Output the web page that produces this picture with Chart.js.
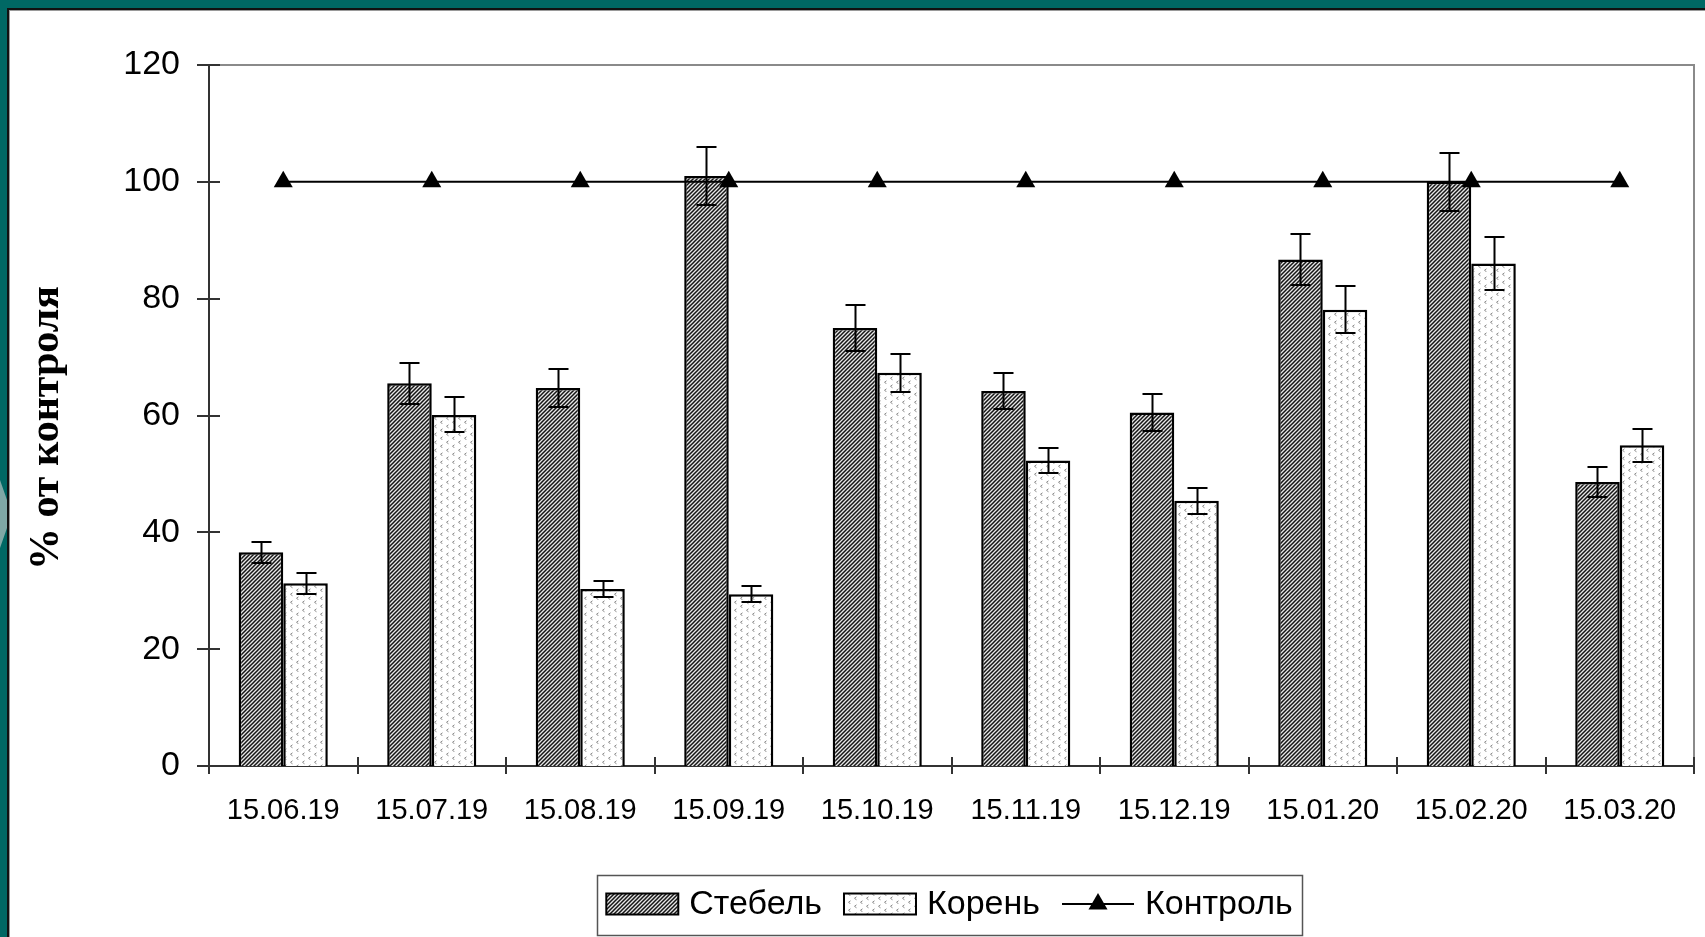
<!DOCTYPE html>
<html><head><meta charset="utf-8">
<script src="https://cdn.jsdelivr.net/npm/chart.js@4.4.1/dist/chart.umd.min.js"></script>
<style>html,body{margin:0;padding:0;background:#fff;overflow:hidden}canvas{display:block}</style>
</head><body>
<canvas id="c" width="1705" height="937"></canvas>
<script>
// ---- data ----
const categories = ['15.06.19','15.07.19','15.08.19','15.09.19','15.10.19','15.11.19','15.12.19','15.01.20','15.02.20','15.03.20'];
const stemValues = [36.6, 65.5, 64.7, 101.0, 75.0, 64.2, 60.5, 86.7, 100.0, 48.6];
const stemErrors = [1.8, 3.5, 3.2, 5.0, 4.0, 3.1, 3.1, 4.4, 5.0, 2.5];
const rootValues = [31.3, 60.1, 30.3, 29.4, 67.3, 52.3, 45.4, 78.1, 86.0, 54.9];
const rootErrors = [1.8, 3.0, 1.4, 1.4, 3.2, 2.2, 2.2, 4.0, 4.5, 2.8];
const controlValues = [100, 100, 100, 100, 100, 100, 100, 100, 100, 100];
const seriesNames = ['Стебель', 'Корень', 'Контроль'];
const yAxisTitle = '% от контроля';
const yMin = 0, yMax = 120, yStep = 20;

// ---- patterns ----
const cv = document.getElementById('c');
const ctx0 = cv.getContext('2d');
function hatchPattern() {
  const c = document.createElement('canvas'); c.width = 4; c.height = 4;
  const g = c.getContext('2d');
  g.fillStyle = '#e6e6e6'; g.fillRect(0, 0, 4, 4);
  g.strokeStyle = '#151515'; g.lineWidth = 1.5;
  g.beginPath();
  g.moveTo(-1, 5); g.lineTo(5, -1);
  g.moveTo(-1, 1); g.lineTo(1, -1);
  g.moveTo(3, 5); g.lineTo(5, 3);
  g.stroke();
  return ctx0.createPattern(c, 'repeat');
}
function dotPattern() {
  const c = document.createElement('canvas'); c.width = 12; c.height = 8;
  const g = c.getContext('2d');
  g.fillStyle = '#ffffff'; g.fillRect(0, 0, 12, 8);
  g.strokeStyle = '#8a8a8a'; g.lineWidth = 1;
  g.beginPath();
  g.moveTo(4.5, 0.8); g.lineTo(2.5, 2.3); g.lineTo(4.5, 3.8);
  g.moveTo(10.5, 4.8); g.lineTo(8.5, 6.3); g.lineTo(10.5, 7.8);
  g.stroke();
  return ctx0.createPattern(c, 'repeat');
}
const stemFill = hatchPattern();
const rootFill = dotPattern();

const framePlugin = {
  id: 'frame',
  beforeDraw(chart) {
    const ctx = chart.ctx, W = chart.width, H = chart.height;
    ctx.save();
    ctx.fillStyle = '#ffffff'; ctx.fillRect(0, 0, W, H);
    ctx.fillStyle = '#006864';
    ctx.fillRect(0, 0, 7, H);
    ctx.fillRect(0, 0, W, 8);
    ctx.fillStyle = '#7fa8a6';
    ctx.beginPath(); ctx.moveTo(0, 480); ctx.lineTo(7, 500); ctx.lineTo(7, 528); ctx.lineTo(0, 548); ctx.closePath(); ctx.fill();
    ctx.fillStyle = '#111';
    ctx.fillRect(7, 8, 2, H - 8);
    ctx.fillRect(7, 8, W - 7, 2);
    ctx.fillStyle = '#9a9a9a';
    ctx.fillRect(9, 10, 1, H - 10);
    ctx.fillRect(9, 10, W - 9, 1);
    ctx.restore();
  },
  beforeDatasetsDraw(chart) {
    const {ctx, chartArea: a, scales: {x, y}} = chart;
    ctx.save();
    ctx.strokeStyle = '#8a8a8a'; ctx.lineWidth = 2;
    ctx.beginPath();
    ctx.moveTo(a.left, a.top); ctx.lineTo(a.right, a.top); ctx.lineTo(a.right, a.bottom);
    ctx.stroke();
    ctx.strokeStyle = '#333'; ctx.lineWidth = 2;
    ctx.beginPath();
    ctx.moveTo(a.left, a.top); ctx.lineTo(a.left, a.bottom);
    ctx.moveTo(a.left - 12, a.bottom); ctx.lineTo(a.right, a.bottom);
    ctx.stroke();
    ctx.beginPath();
    y.ticks.forEach(t => {
      const py = Math.round(y.getPixelForValue(t.value));
      ctx.moveTo(a.left - 12, py); ctx.lineTo(a.left + 11, py);
    });
    const n = categories.length;
    const half = (x.getPixelForValue(1) - x.getPixelForValue(0)) / 2;
    for (let i = 0; i <= n; i++) {
      const px = Math.round(i < n ? x.getPixelForValue(i) - half : x.getPixelForValue(n - 1) + half);
      ctx.moveTo(px, a.bottom - 9); ctx.lineTo(px, a.bottom + 8);
    }
    ctx.stroke();
    ctx.restore();
  },
  afterDatasetsDraw(chart) {
    const {ctx, scales: {y}} = chart;
    ctx.save();
    ctx.strokeStyle = '#000'; ctx.lineWidth = 2;
    const errs = [stemErrors, rootErrors];
    const vals = [stemValues, rootValues];
    [0, 1].forEach(di => {
      const meta = chart.getDatasetMeta(di);
      meta.data.forEach((bar, i) => {
        const cx = Math.round(bar.x) + 0.5;
        const yt = Math.round(y.getPixelForValue(vals[di][i] + errs[di][i]));
        const yb = Math.round(y.getPixelForValue(vals[di][i] - errs[di][i]));
        ctx.beginPath();
        ctx.moveTo(cx, yt); ctx.lineTo(cx, yb);
        ctx.moveTo(cx - 10, yt); ctx.lineTo(cx + 10, yt);
        ctx.moveTo(cx - 10, yb); ctx.lineTo(cx + 10, yb);
        ctx.stroke();
      });
    });
    ctx.restore();
  },
  afterDraw(chart) {
    const ctx = chart.ctx;
    ctx.save();
    ctx.translate(58, 428);
    ctx.rotate(-Math.PI / 2);
    ctx.font = 'bold 42px "Liberation Serif", "Times New Roman", serif';
    ctx.fillStyle = '#000';
    ctx.textAlign = 'center'; ctx.textBaseline = 'alphabetic';
    ctx.fillText(yAxisTitle, 0, 0);
    ctx.restore();

    ctx.save();
    const bx = 597, by = 875, bw = 705, bh = 60;
    ctx.fillStyle = '#fff'; ctx.fillRect(bx, by, bw, bh);
    ctx.strokeStyle = '#555'; ctx.lineWidth = 1.5;
    ctx.strokeRect(bx + 0.5, by + 0.5, bw, bh);
    ctx.font = '34px "Liberation Sans", Arial, sans-serif';
    ctx.textBaseline = 'middle'; ctx.textAlign = 'left';
    const cy = by + bh / 2 - 1;
    const sw = 72, sh = 21, gap = 11, igap = 22;
    const widths = seriesNames.map(s => ctx.measureText(s).width);
    const total = widths.reduce((a, b) => a + b, 0) + 3 * (sw + gap) + 2 * igap;
    let xx = bx + (bw - total) / 2;
    const ds = chart.data.datasets;
    for (let k = 0; k < 3; k++) {
      if (k < 2) {
        ctx.fillStyle = ds[k].backgroundColor;
        ctx.fillRect(xx, cy - sh / 2, sw, sh);
        ctx.strokeStyle = '#000'; ctx.lineWidth = 2;
        ctx.strokeRect(xx, cy - sh / 2, sw, sh);
      } else {
        ctx.strokeStyle = '#000'; ctx.lineWidth = 2;
        ctx.beginPath(); ctx.moveTo(xx, cy); ctx.lineTo(xx + sw, cy); ctx.stroke();
        const r = 11, mx = xx + sw / 2;
        ctx.fillStyle = '#000';
        ctx.beginPath();
        ctx.moveTo(mx, cy - r);
        ctx.lineTo(mx + r * 0.866, cy + r * 0.5);
        ctx.lineTo(mx - r * 0.866, cy + r * 0.5);
        ctx.closePath(); ctx.fill();
      }
      xx += sw + gap;
      ctx.fillStyle = '#000';
      ctx.fillText(seriesNames[k], xx, cy + 1);
      xx += widths[k] + igap;
    }
    ctx.restore();
  }
};

new Chart(cv, {
  type: 'bar',
  data: {
    labels: categories,
    datasets: [
      { type: 'bar', label: seriesNames[0], data: stemValues, backgroundColor: stemFill, borderColor: '#000', borderWidth: 2.5, order: 2,
        categoryPercentage: 0.6, barPercentage: 1.0 },
      { type: 'bar', label: seriesNames[1], data: rootValues, backgroundColor: rootFill, borderColor: '#000', borderWidth: 2.5, order: 2,
        categoryPercentage: 0.6, barPercentage: 1.0 },
      { type: 'line', label: seriesNames[2], data: controlValues, borderColor: '#000', backgroundColor: '#000', borderWidth: 2,
        pointStyle: 'triangle', pointRadius: 11, pointBackgroundColor: '#000', pointBorderColor: '#000', pointBorderWidth: 0,
        fill: false, tension: 0, order: 0 }
    ]
  },
  options: {
    responsive: false,
    animation: false,
    devicePixelRatio: 1,
    layout: { padding: { left: 10, top: 65, right: 9, bottom: 0 } },
    plugins: { legend: { display: false }, tooltip: { enabled: false }, title: { display: false } },
    scales: {
      x: {
        grid: { display: false, drawTicks: false },
        border: { display: false },
        ticks: { color: '#000', padding: 28, maxRotation: 0, autoSkip: false,
          font: { family: '"Liberation Sans", Arial, sans-serif', size: 29 } },
        afterFit(s) { s.height = 171; }
      },
      y: {
        min: yMin, max: yMax,
        grid: { display: false, drawTicks: false },
        border: { display: false },
        ticks: { stepSize: yStep, color: '#000', padding: 29,
          font: { family: '"Liberation Sans", Arial, sans-serif', size: 34 } },
        afterFit(s) { s.width = 199; }
      }
    }
  },
  plugins: [framePlugin]
});
</script>
</body></html>
